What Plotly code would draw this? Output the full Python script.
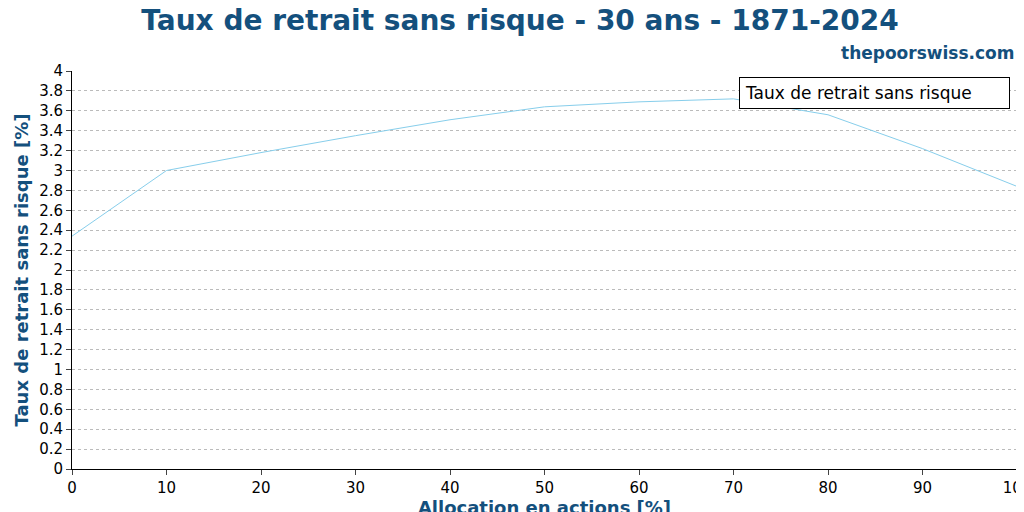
import plotly.graph_objects as go

allocation = [0, 10, 20, 30, 40, 50, 60, 70, 80, 90, 100]
taux = [2.34, 3.0, 3.18, 3.35, 3.51, 3.64, 3.69, 3.72, 3.56, 3.22, 2.84]

blue = "#14507d"
sky = "#87ceeb"

fig = go.Figure(go.Scatter(
    x=allocation, y=taux, mode="lines", name="Taux de retrait sans risque",
    line=dict(color=sky, width=1), showlegend=False,
))

fig.update_layout(
    width=1024, height=512,
    paper_bgcolor="white", plot_bgcolor="white",
    margin=dict(l=64, r=15, t=63, b=51, autoexpand=False),
    font=dict(family="DejaVu Sans", size=15, color="black"),
    title=dict(text="<b>Taux de retrait sans risque - 30 ans - 1871-2024</b>",
               x=0.5, xanchor="center", y=0.995, yanchor="top",
               font=dict(size=28, color=blue)),
    xaxis=dict(range=[0, 100], dtick=10, showgrid=False, showline=True,
               linecolor="black", ticks="outside", ticklen=5, zeroline=False,
               automargin=False,
               title=dict(text="<b>Allocation en actions [%]</b>", standoff=5,
                          font=dict(size=18, color=blue))),
    yaxis=dict(range=[0, 4], dtick=0.2, showgrid=True, gridcolor="#bbbbbb",
               griddash="dot", showline=True, linecolor="black", mirror=True,
               ticks="outside", ticklen=5, zeroline=False, automargin=False,
               title=dict(text="<b>Taux de retrait sans risque [%]</b>", standoff=5,
                          font=dict(size=18, color=blue))),
    annotations=[
        dict(text="<b>thepoorswiss.com</b>", xref="paper", yref="paper",
             x=1, y=1.015, xanchor="right", yanchor="bottom",
             showarrow=False, font=dict(size=17, color=blue)),
        dict(text="Taux de retrait sans risque      ", xref="paper", yref="paper",
             x=0.993, y=0.985, xanchor="right", yanchor="top", showarrow=False,
             bordercolor="black", borderwidth=1, bgcolor="white", borderpad=5,
             font=dict(size=17, color="black")),
    ],
    shapes=[dict(type="rect", xref="paper", yref="paper",
                 x0=0.975, x1=0.985, y0=0.915, y1=0.958,
                 fillcolor=sky, line=dict(color="black", width=1))],
)

fig.write_html("out.html")
